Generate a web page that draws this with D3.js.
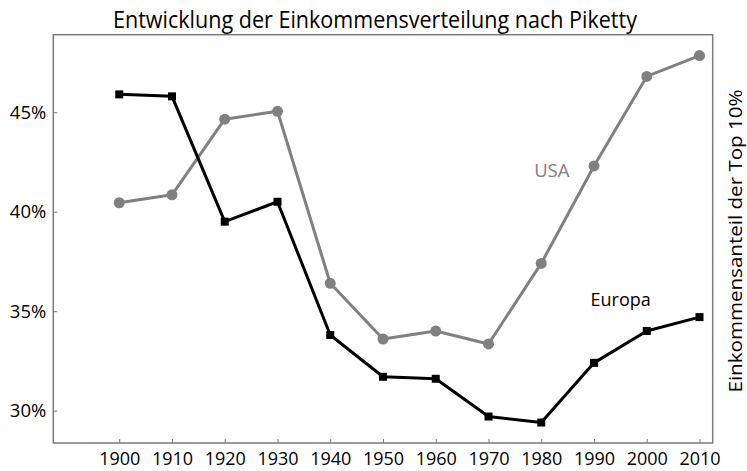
<!DOCTYPE html>
<html>
<head>
<meta charset="utf-8">
<script src="https://cdn.jsdelivr.net/npm/d3@7"></script>
<style>
  html, body { margin: 0; padding: 0; background: #fff; }
  svg { display: block; }
  text { font-family: "Open Sans", "Noto Sans", sans-serif; }
</style>
</head>
<body>
<svg id="chart" width="747" height="471"></svg>
<script>
const years = [1900, 1910, 1920, 1930, 1940, 1950, 1960, 1970, 1980, 1990, 2000, 2010];
const europa = [45.9, 45.8, 39.5, 40.5, 33.8, 31.7, 31.6, 29.7, 29.4, 32.4, 34.0, 34.7];
const usa = [40.45, 40.85, 44.65, 45.05, 36.4, 33.6, 34.0, 33.35, 37.4, 42.3, 46.8, 47.85];
const yTicks = [30, 35, 40, 45];
const title = "Entwicklung der Einkommensverteilung nach Piketty";
const yLabel = "Einkommensanteil der Top 10%";
const seriesNames = ["Europa", "USA"];

const svg = d3.select("#chart");
const pLeft = 53.3, pRight = 712.7, pTop = 34.7, pBottom = 443;

const x = d3.scaleLinear().domain([1887.5, 2012.5]).range([pLeft, pRight]);
const y = d3.scaleLinear().domain([28.37, 48.9]).range([pBottom, pTop]);

const frameColor = "#7a7a7a";
const usaColor = "#808080";

// Title
svg.append("text")
  .attr("x", 375).attr("y", 28)
  .attr("text-anchor", "middle")
  .attr("font-size", 23.5)
  .attr("textLength", 524).attr("lengthAdjust", "spacingAndGlyphs")
  .attr("fill", "#000")
  .text(title);

// Frame
svg.append("rect")
  .attr("x", pLeft).attr("y", pTop)
  .attr("width", pRight - pLeft).attr("height", pBottom - pTop)
  .attr("fill", "none").attr("stroke", frameColor).attr("stroke-width", 1.5);

// X axis (ticks inside)
const xAxis = d3.axisBottom(x).tickValues(years).tickFormat(d3.format("d")).tickSizeInner(-4).tickSizeOuter(0).tickPadding(9);
const gx = svg.append("g").attr("transform", `translate(0,${pBottom})`).call(xAxis);
gx.select(".domain").remove();
gx.selectAll(".tick line").attr("stroke", frameColor).attr("stroke-width", 1);
gx.selectAll(".tick text").attr("font-size", 18).attr("fill", "#000")
  .attr("font-family", "\"Open Sans\", sans-serif");

// Y axis (ticks inside)
const yAxis = d3.axisLeft(y).tickValues(yTicks).tickFormat(d => d + "%").tickSizeInner(-4).tickSizeOuter(0).tickPadding(7);
const gy = svg.append("g").attr("transform", `translate(${pLeft},0)`).call(yAxis);
gy.select(".domain").remove();
gy.selectAll(".tick line").attr("stroke", frameColor).attr("stroke-width", 1);
gy.selectAll(".tick text").attr("font-size", 18.5).attr("fill", "#000")
  .attr("font-family", "\"Open Sans\", sans-serif");

// Right label
svg.append("text")
  .attr("transform", "translate(742,241) rotate(-90)")
  .attr("text-anchor", "middle")
  .attr("font-size", 19)
  .attr("textLength", 303).attr("lengthAdjust", "spacingAndGlyphs")
  .attr("fill", "#000")
  .text(yLabel);

const line = d3.line().x(d => x(d[0])).y(d => y(d[1]));

// USA
const usaData = years.map((yr, i) => [yr, usa[i]]);
svg.append("path").datum(usaData).attr("d", line)
  .attr("fill", "none").attr("stroke", usaColor).attr("stroke-width", 3).attr("stroke-linejoin", "round");
svg.selectAll("circle.usa").data(usaData).enter().append("circle")
  .attr("class", "usa")
  .attr("cx", d => x(d[0])).attr("cy", d => y(d[1])).attr("r", 5.5)
  .attr("fill", usaColor);

// Europa
const euData = years.map((yr, i) => [yr, europa[i]]);
svg.append("path").datum(euData).attr("d", line)
  .attr("fill", "none").attr("stroke", "#000").attr("stroke-width", 3).attr("stroke-linejoin", "round");
svg.selectAll("rect.eu").data(euData).enter().append("rect")
  .attr("class", "eu")
  .attr("x", d => x(d[0]) - 4).attr("y", d => y(d[1]) - 4)
  .attr("width", 8).attr("height", 8)
  .attr("fill", "#000");

// Series labels
svg.append("text").attr("x", x(1982)).attr("y", y(41.76))
  .attr("text-anchor", "middle").attr("font-size", 18.5).attr("fill", usaColor)
  .text(seriesNames[1]);
svg.append("text").attr("x", x(1995.05)).attr("y", y(35.26))
  .attr("text-anchor", "middle").attr("font-size", 18).attr("fill", "#000")
  .text(seriesNames[0]);
</script>
</body>
</html>
